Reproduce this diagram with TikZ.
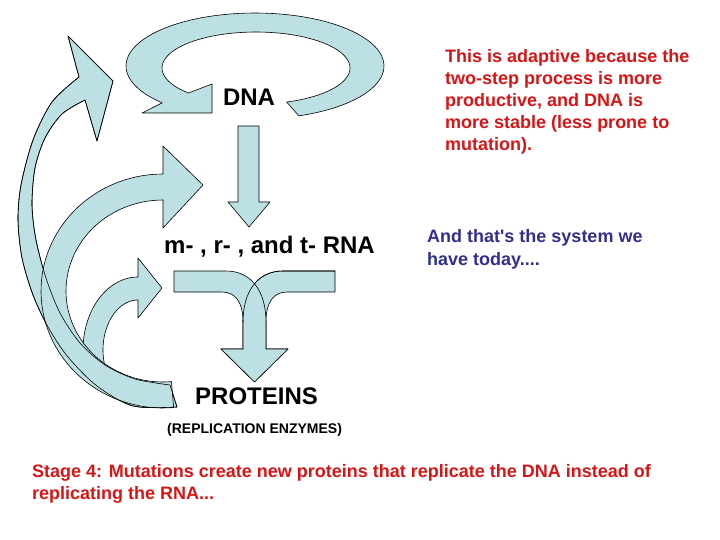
\documentclass[tikz,border=0pt]{standalone}
\usepackage{fontspec}
\setmainfont{Liberation Sans}[Ligatures=TeXOff]
\definecolor{arrowfill}{RGB}{189,224,229}
\definecolor{redtxt}{RGB}{214,22,22}
\definecolor{bluetxt}{RGB}{48,48,140}
\tikzset{
  shapefill/.style={fill=arrowfill},
  shapeline/.style={draw=black, line width=0.6pt, line join=round},
  blockarrow/.style={shapefill, shapeline},
  bigtxt/.style={inner sep=0pt, font=\fontsize{24}{28}\selectfont\bfseries},
  smalltxt/.style={inner sep=0pt, font=\fontsize{14}{17}\selectfont\bfseries},
  redline/.style={inner sep=0pt, text=redtxt, font=\fontsize{18}{21.6}\selectfont\bfseries},
  blueline/.style={inner sep=0pt, text=bluetxt, font=\fontsize{18}{21.6}\selectfont\bfseries}
}
\def\bigarrow{(79,77) -- (68,36) -- (113,81) -- (97,141) -- (85,100)
  -- plot[smooth] coordinates {(85,100) (62,114) (45,138) (35,168) (32,205) (36,240) (46,278) (60,313) (80,343) (105,365) (135,379) (170,385)}
  -- plot[smooth] coordinates {(177,407) (133,406) (97,386) (68,357) (48,327) (33,295) (22,258) (18,220) (21,185) (33,140) (52,102) (79,77)} -- cycle}
\def\midarrow{(163,146) -- (203,185) -- (163,228) -- (163,200)
  -- plot[domain=90:275, samples=60] ({163+97*cos(-\x)},{291+91*sin(-\x)})
  -- plot[domain=-275:-90, samples=60] ({163+122*cos(\x)},{291+117*sin(\x)}) -- cycle}
\begin{document}
\begin{tikzpicture}[x=1pt,y=-1pt]
\useasboundingbox[fill=white] (0,0) rectangle (720,540);

% top self-replication loop
\path[blockarrow] (299,116)
  -- plot[domain=-70:224, samples=80] ({255+129*cos(-\x)},{66+53*sin(-\x)})
  -- (142,113) -- (212,113) -- (212,84) -- (188.4,93)
  -- plot[domain=-224:71, samples=80] ({256+94*cos(\x)},{68+36*sin(\x)}) -- cycle;

% straight arrow DNA -> RNA
\path[blockarrow] (238,126) -- (259,126) -- (259,202) -- (270,202) -- (249,227) -- (228,202) -- (238,202) -- cycle;

% merging arrow RNA -> proteins
\path[blockarrow] (335,271) -- (283,271) .. controls (257,271) and (243,292) .. (243,322)
  -- (243,349) -- (221,349) -- (254.5,382) -- (288,349) -- (266,349) -- (266,322)
  .. controls (266,303) and (273,292) .. (287,292) -- (335,292) -- cycle;
\path[blockarrow] (174,271) -- (226,271) .. controls (252,271) and (266,292) .. (266,322)
  -- (266,349) -- (288,349) -- (254.5,382) -- (221,349) -- (243,349) -- (243,322)
  .. controls (243,303) and (236,292) .. (222,292) -- (174,292) -- cycle;
\path[shapeline] (335,271) -- (283,271) .. controls (257,271) and (243,292) .. (243,322);

% small curved arrow
\path[blockarrow] (138,258) -- (162,288) -- (138,318) -- (138,300)
  -- plot[domain=90:215, samples=50] ({138+35*cos(-\x)},{350+50*sin(-\x)})
  -- plot[domain=-185:-90, samples=50] ({138+55*cos(\x)},{350+73*sin(\x)}) -- cycle;

% big and middle curved arrows
\path[blockarrow] \bigarrow;
\path[blockarrow] \midarrow;
\path[shapeline] \bigarrow;

% texts
\node[bigtxt, anchor=base] (dna) at (249,106) {DNA};
\node[bigtxt, anchor=base west] (rna) at (164,254) {m- , r- , and t- RNA};
\node[bigtxt, anchor=base west] (prot) at (195,404) {PROTEINS};
\node[smalltxt, anchor=base west] (enz) at (167,433) {(REPLICATION ENZYMES)};

\node[redline, anchor=base west] (r1) at (445,63) {This is adaptive because the};
\node[redline, anchor=base west] (r2) at (445,85) {two-step process is more};
\node[redline, anchor=base west] (r3) at (445,107) {productive, and DNA is};
\node[redline, anchor=base west] (r4) at (445,129) {more stable (less prone to};
\node[redline, anchor=base west] (r5) at (445,151) {mutation).};

\node[blueline, anchor=base west] (b1) at (427,243) {And that's the system we};
\node[blueline, anchor=base west] (b2) at (427,265) {have today....};

\node[redline, anchor=base west] (s1) at (32,477) {Stage 4: Mutations create new proteins that replicate the DNA instead of};
\node[redline, anchor=base west] (s2) at (32,499) {replicating the RNA...};
\end{tikzpicture}
\end{document}
